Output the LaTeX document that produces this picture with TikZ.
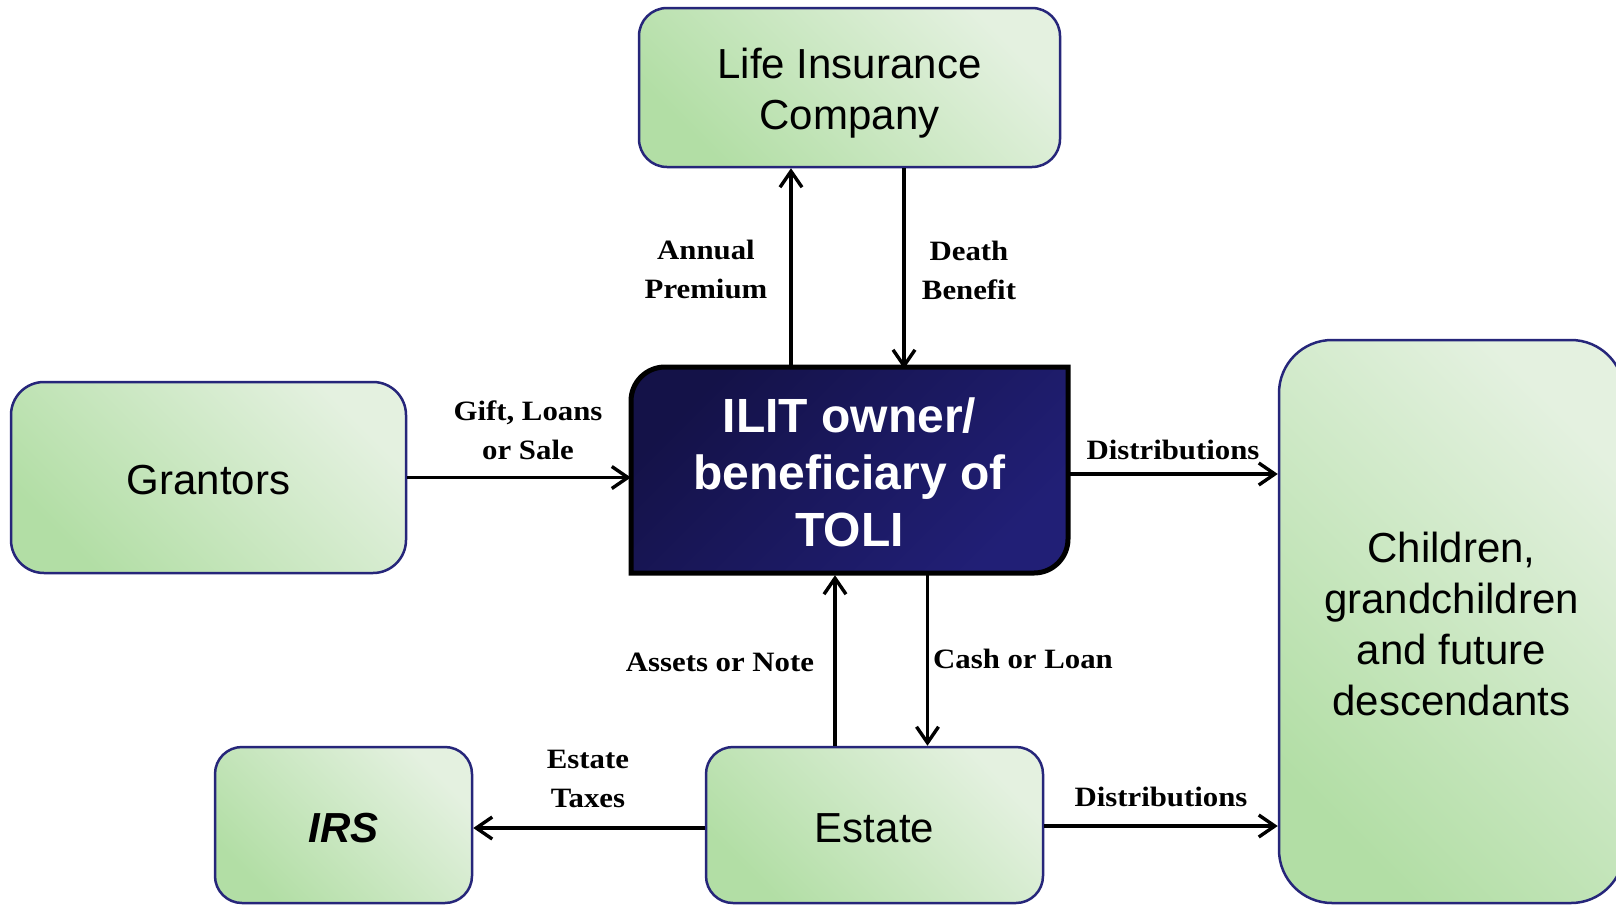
\documentclass[tikz,border=0pt]{standalone}
\usepackage{fontspec}
\setmainfont{Liberation Sans}
\newfontfamily\lblfont[FakeStretch=1.1]{Liberation Serif}
\usetikzlibrary{arrows.meta}

\definecolor{boxlight}{RGB}{228,241,224}
\definecolor{boxdark}{RGB}{178,222,165}
\definecolor{boxline}{RGB}{38,38,122}
\definecolor{ilitdark}{RGB}{20,18,72}
\definecolor{ilitlight}{RGB}{33,31,118}

\begin{document}
\begin{tikzpicture}[x=1pt,y=-1pt,
  gbox/.style={draw=boxline, line width=2.5pt, rectangle,
    top color=boxlight, bottom color=boxdark, shading angle=-45, inner sep=0pt},
  btext/.style={align=center, inner sep=0pt, font=\fontsize{42}{51}\selectfont},
  flow/.style={line width=3.4pt, -{Straight Barb[length=16pt,width=22pt]}},
  lbl/.style={font=\lblfont\bfseries\fontsize{28}{39}\selectfont,
    align=center, anchor=base, inner sep=0pt}
]
\useasboundingbox (0,0) rectangle (1616,905);
\fill[white] (0,0) rectangle (1616,905);
\clip (0,0) rectangle (1616,905);

% green boxes
\node[gbox, minimum width=421pt, minimum height=159pt, rounded corners=28pt]
  (lic) at (849.5,87.5) {};
\node[btext] (licText) at ([yshift=-6pt]lic.center) {Life Insurance\\Company};
\node[gbox, minimum width=395pt, minimum height=191pt, rounded corners=33pt]
  (grant) at (208.5,477.5) {};
\node[btext] (grantText) at ([yshift=-3pt]grant.center) {Grantors};
\node[gbox, minimum width=345pt, minimum height=563pt, rounded corners=53pt]
  (kids) at (1451.5,621.5) {};
\node[btext] (kidsText) at ([yshift=-2pt]kids.center) {Children,\\grandchildren\\and future\\descendants};
\node[gbox, minimum width=257pt, minimum height=156pt, rounded corners=27pt]
  (irs) at (343.5,825) {};
\node[btext] (irsText) at ([yshift=-3pt]irs.center) {\bfseries\itshape IRS};
\node[gbox, minimum width=337pt, minimum height=156pt, rounded corners=27pt]
  (est) at (874.5,825) {};
\node[btext] (estText) at ([yshift=-3pt]est.center) {Estate};

% trust box: rounded top-left and bottom-right corners only
\path[draw=black, line width=5pt, top color=ilitdark, bottom color=ilitlight, shading angle=45]
  (631,573) -- (631,401) .. controls (631,382.2) and (646.2,367) .. (665,367)
  -- (1068,367) -- (1068,539) .. controls (1068,557.8) and (1052.8,573) .. (1034,573)
  -- cycle;
\node[minimum width=437pt, minimum height=206pt, inner sep=0pt, align=center,
  text=white, font=\bfseries\fontsize{48}{57}\selectfont]
  (ilit) at (849.5,472) {ILIT owner/\\beneficiary of\\TOLI};

% connectors
\draw[flow] ([xshift=-58.5pt]ilit.north) -- ([xshift=-58.5pt]lic.south);
\draw[flow] ([xshift=54.5pt]lic.south) -- ([xshift=54.5pt]ilit.north);
\draw[flow] (grant.east) -- (grant.east -| ilit.west);
\coordinate (d1) at ([yshift=-2pt]ilit.east);
\draw[flow] (d1) -- (d1 -| kids.west);
\coordinate (a1) at ([xshift=-39.5pt]est.north);
\draw[flow] (a1) -- (a1 |- ilit.south);
\coordinate (c1) at ([xshift=53pt]est.north);
\draw[flow] (c1 |- ilit.south) -- (c1);
\coordinate (t1) at ([yshift=-3pt]est.west);
\draw[flow] (t1) -- (t1 -| irs.east);
\coordinate (d2) at ([yshift=-1pt]est.east);
\draw[flow] (d2) -- (d2 -| kids.west);

% connector labels (anchored at the baseline of the last line)
\node[lbl] (lAnnual) at (706,298) {Annual\\Premium};
\node[lbl] (lDeath) at (969,299) {Death\\Benefit};
\node[lbl] (lGift) at (528,459) {Gift, Loans\\or Sale};
\node[lbl] (lDist1) at (1173,459) {Distributions};
\node[lbl] (lAssets) at (720,671) {Assets or Note};
\node[lbl] (lCash) at (1023,668) {Cash or Loan};
\node[lbl] (lTax) at (588,807) {Estate\\Taxes};
\node[lbl] (lDist2) at (1161,806) {Distributions};
\end{tikzpicture}
\end{document}
